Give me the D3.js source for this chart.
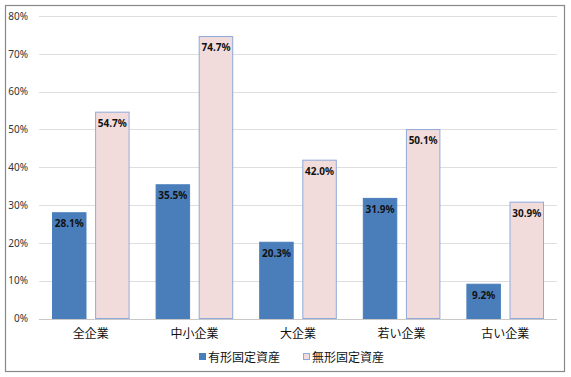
<!DOCTYPE html>
<html>
<head>
<meta charset="utf-8">
<script src="https://cdn.jsdelivr.net/npm/d3@7"></script>
<style>
  body { margin: 0; background: #fff; }
  svg text { font-family: "Noto Sans CJK JP", "Noto Sans", sans-serif; }
</style>
</head>
<body>
<div class="container"></div>
<script>
let categories = ["全企業", "中小企業", "大企業", "若い企業", "古い企業"]
let seriesNames = ["有形固定資産", "無形固定資産"]
let tangible = [28.1, 35.5, 20.3, 31.9, 9.2]
let intangible = [54.7, 74.7, 42.0, 50.1, 30.9]
let yTicks = [0, 10, 20, 30, 40, 50, 60, 70, 80]

let width = 571
let height = 377
let fills = ["#4a7ebb", "#f2dcdb"]
let strokes = ["#4a7ebb", "#8eaadb"]

let svg = d3.select(".container")
  .append("svg")
  .attr("width", width)
  .attr("height", height)

// outer frame
svg.append("rect")
  .attr("x", 5.5)
  .attr("y", 5.5)
  .attr("width", 559)
  .attr("height", 366)
  .attr("fill", "#fff")
  .attr("stroke", "#888")
  .attr("stroke-width", 1.2)

let x = d3.scaleBand()
  .domain(categories)
  .range([39, 557])

let inner = d3.scaleBand()
  .domain(seriesNames)
  .range([13, x.bandwidth() - 13])
  .paddingInner(0.2)

let y = d3.scaleLinear()
  .domain([0, 80])
  .range([318.5, 16])

// gridlines
svg.selectAll(".grid")
  .data(yTicks)
  .enter()
  .append("line")
  .attr("class", "grid")
  .attr("x1", 39)
  .attr("x2", 557)
  .attr("y1", function (d) { return Math.round(y(d)) + 0.5 })
  .attr("y2", function (d) { return Math.round(y(d)) + 0.5 })
  .attr("stroke", function (d) { return d === 0 ? "#c8c8c8" : "#dedede" })
  .attr("stroke-width", 1)

let yAxis = svg.append("g")
  .attr("transform", "translate(31,0)")
  .call(d3.axisLeft(y).tickValues(yTicks).tickSize(0).tickFormat(function (d) { return d + "%" }))
yAxis.select(".domain").remove()
yAxis.selectAll("text")
  .attr("font-size", "10px")
  .attr("fill", "#333")
  .style("font-family", "'Noto Sans', sans-serif")

let xAxis = svg.append("g")
  .attr("transform", "translate(0,326)")
  .call(d3.axisBottom(x).tickSize(0))
xAxis.select(".domain").remove()
xAxis.selectAll("text")
  .attr("font-size", "12px")
  .attr("fill", "#111")

let rows = []
for (let i = 0; i < categories.length; i++) {
  rows.push({ cat: categories[i], s: 0, v: tangible[i] })
  rows.push({ cat: categories[i], s: 1, v: intangible[i] })
}

svg.selectAll(".bar")
  .data(rows)
  .enter()
  .append("rect")
  .attr("class", "bar")
  .attr("x", function (d) { return x(d.cat) + inner(seriesNames[d.s]) + 0.5 })
  .attr("y", function (d) { return y(d.v) + 0.5 })
  .attr("width", inner.bandwidth() - 1)
  .attr("height", function (d) { return y(0) - y(d.v) - 0.5 })
  .attr("fill", function (d) { return fills[d.s] })
  .attr("stroke", function (d) { return strokes[d.s] })
  .attr("stroke-width", 1)

svg.selectAll(".label")
  .data(rows)
  .enter()
  .append("text")
  .attr("class", "label")
  .attr("x", function (d) { return x(d.cat) + inner(seriesNames[d.s]) + inner.bandwidth() / 2 })
  .attr("y", function (d) { return y(d.v) + 15 })
  .attr("text-anchor", "middle")
  .attr("font-size", "10px")
  .attr("font-weight", "bold")
  .attr("fill", "#111")
  .style("font-family", "'Noto Sans', sans-serif")
  .text(function (d) { return d.v.toFixed(1) + "%" })

// legend
let legend = svg.append("g")
  .attr("transform", "translate(199,357)")
let legendX = [0, 104]
seriesNames.forEach(function (name, i) {
  let g = legend.append("g").attr("transform", "translate(" + legendX[i] + ",0)")
  g.append("rect")
    .attr("x", 0.5)
    .attr("y", -3.5)
    .attr("width", 6)
    .attr("height", 6)
    .attr("fill", fills[i])
    .attr("stroke", strokes[i])
  g.append("text")
    .attr("x", 9)
    .attr("y", 4.5)
    .attr("font-size", "12px")
    .attr("fill", "#111")
    .text(name)
})
</script>
</body>
</html>
